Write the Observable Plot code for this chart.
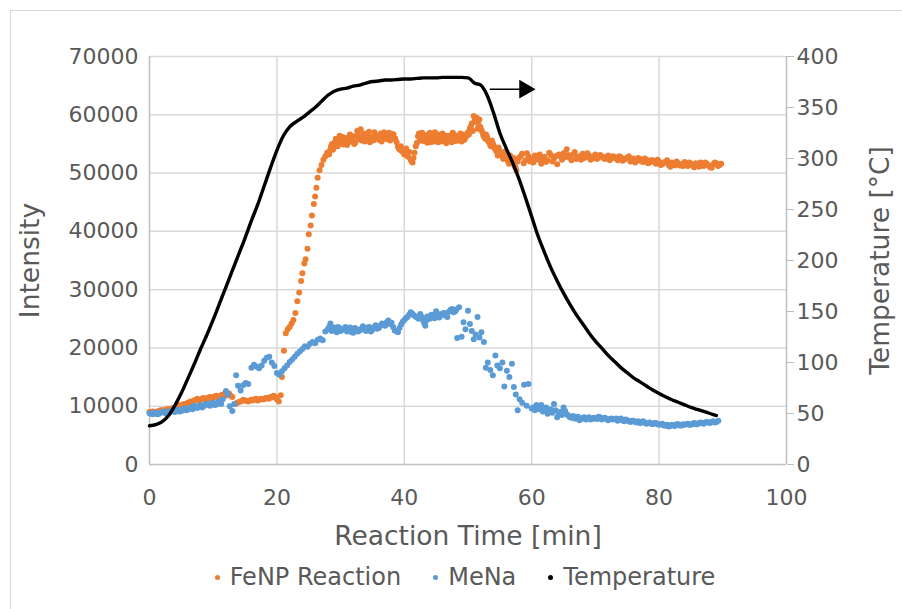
<!DOCTYPE html>
<html>
<head>
<meta charset="utf-8">
<script src="https://cdn.jsdelivr.net/npm/d3@7"></script>
<script src="https://cdn.jsdelivr.net/npm/@observablehq/plot@0.6"></script>
<style>
  html, body { margin: 0; padding: 0; background: #fff; }
  body { width: 902px; height: 609px; position: relative; overflow: hidden; font-family: "DejaVu Sans", Verdana, sans-serif; }
  #border { position: absolute; left: 10px; top: 10px; width: 1000px; height: 1000px; border-left: 1.5px solid #d9d9d9; border-top: 1.5px solid #d9d9d9; }
  #chart { position: absolute; left: 0; top: 0; }
  #legend { position: absolute; left: 14px; top: 562px; width: 902px; display: flex; justify-content: center; gap: 32px; color: #595959; font-size: 24px; line-height: 30px; }
  #legend span.item { display: inline-flex; align-items: center; }
  #legend span.sw { display: inline-block; width: 5px; height: 5px; border-radius: 50%; margin-right: 10px; }
</style>
</head>
<body>
<div id="border"></div>
<div id="chart"></div>
<div id="legend"></div>
<script>
// ---- data ----
const seriesNames = ["FeNP Reaction", "MeNa", "Temperature"];
const seriesColors = ["#ED7D31", "#5B9BD5", "#000000"];
const xTicks = [0, 20, 40, 60, 80, 100];
const yTicks = [0, 10000, 20000, 30000, 40000, 50000, 60000, 70000];
const tempTicks = [0, 50, 100, 150, 200, 250, 300, 350, 400];

// FeNP Reaction: [time min, intensity]
const feMain = [
[0,9000],[0.5,9100],[1,8900],[1.5,9200],[2,9300],[2.5,9400],[3,9500],[3.5,9600],[4,9800],[4.5,10200],
[5,10000],[5.5,10400],[6,10600],[6.5,10800],[7,11000],[7.5,11300],[8,11100],[8.5,11400],[9,11200],[9.5,11600],
[10,11500],[10.5,11800],[11,11600],[11.5,12000],[12,11900],[12.5,12200],[13,11600],[13.5,10400],[14,10700],[14.5,10900],
[15,11000],[15.5,10800],[16,11100],[16.5,11200],[17,11000],[17.5,11300],[18,11200],[18.5,11400],[19,11600],[19.5,11800],
[20,11200],[20.3,10800],[20.6,11900],[20.8,15000],[21.1,19500],[21.4,22500],[21.7,23200],[22,23600],[22.3,24200],[22.6,24800],
[22.9,26000],[23.2,28000],[23.5,29500],[23.8,31500],[24,32800],[24.3,34500],[24.5,35200],[24.8,37000],[25,39500],[25.3,41000],
[25.5,42700],[25.8,44700],[26,46000],[26.2,47500],[26.4,49200],[26.7,50500],[27,51400],[27.3,52300],[27.6,52900],[27.9,53500],
[28.2,53200],[28.5,54600],[28.8,54000],[29.1,55300],[29.4,54800],[29.7,55800],[30,55200],[30.3,56200],[30.6,55600],[31,54800],
[31.3,56000],[31.6,55400],[32,56300],[32.3,55200],[32.6,57200],[33,56500],[33.3,55600],[33.6,56800],[34,55900],[34.3,56600],
[34.6,55300],[35,56200],[35.3,57000],[35.6,56300],[36,55700],[36.3,56800],[36.6,56100],[37,56500],[37.3,55800],[37.6,56900],
[38,56200],[38.3,56600],[38.6,55900],[39,54500],[39.3,54000],[39.6,53800],[40,53200],[40.3,54200],[40.6,52800],[41,52300],
[41.3,51800],[41.6,53500],[42,55200],[42.3,56800],[42.6,56200],[43,55500],[43.3,56500],[43.6,55200],[44,56900],[44.3,55700],
[44.6,55400],[45,56200],[45.3,55300],[45.6,56000],[46,56800],[46.3,55600],[46.6,55100],[47,56400],[47.3,55800],[47.6,56900],
[48,55500],[48.3,56000],[48.6,56300],[49,55400],[49.3,56600],[49.6,56100],[50,57000],[50.3,57700],[50.6,58500],[50.9,59800],
[51.2,58800],[51.5,57600],[51.8,59200],[52.1,57400],[52.4,56500],[52.7,55900],[53,56200],[53.3,55300],[53.6,54600],[53.9,55100],
[54.2,54200],[54.5,53700],[54.8,54400],[55.1,53500],[55.4,52800],[55.7,53400],[56,52500],[56.3,52000],[56.6,53000],[57,51800],
[57.3,51200],[57.6,50500],[58,52600],[58.5,53300],[59,52200],[59.5,52900],[60,52400],[60.5,53000],[61,52300],[61.5,51600],
[62,52800],[62.5,52200],[63,53100],[63.5,52500],[64,51500],[64.5,52900],[65,53400],[65.5,54100],[66,52600],[66.5,53200],
[67,52400],[67.5,52900],[68,53300],[68.5,52700],[69,53000],[69.5,52500],[70,53200],[70.5,52700],[71,52900],[71.5,52400],
[72,53000],[72.5,52500],[73,52800],[73.5,52200],[74,52700],[74.5,52300],[75,52600],[75.5,52000],[76,52500],[76.5,52100],
[77,52400],[77.5,51900],[78,52300],[78.5,51800],[79,52200],[79.5,51600],[80,52000],[80.5,51500],[81,51900],[81.5,51400],
[82,51800],[82.5,51300],[83,51700],[83.5,51500],[84,51900],[84.5,51200],[85,51600],[85.5,51000],[86,51500],[86.5,51800],
[87,51200],[87.5,51600],[88,51000],[88.5,51500],[89,51700],[89.5,51400]
];
// FeNP Reaction: in-between readings
const feMid = [
[0.25,8900],[0.75,9000],[1.25,9100],[1.75,9300],[2.25,9200],[2.75,9500],[3.25,9400],[3.75,9700],[4.25,9900],[4.75,10100],
[5.25,10300],[5.75,10200],[6.25,10700],[6.75,10600],[7.25,11100],[7.75,10900],[8.25,11300],[8.75,11000],[9.25,11500],[9.75,11300],
[10.25,11700],[10.75,11400],[11.25,11900],[11.75,11700],[12.25,12100],[12.75,11800],[13.75,10600],[14.25,10800],[14.75,11100],[15.25,10900],
[15.75,11000],[16.25,11000],[16.75,11300],[17.25,11100],[17.75,11200],[18.25,11400],[18.75,11300],[19.25,11500],[19.75,11600],
[28.35,53900],[28.65,55000],[28.95,54400],[29.25,55900],[29.55,54600],[29.85,56400],[30.15,55500],[30.45,54900],[30.8,56000],[31.15,55200],
[31.45,56600],[31.8,55700],[32.15,55000],[32.45,56300],[32.8,55800],[33.15,57500],[33.45,56000],[33.8,55400],[34.15,56200],[34.45,57100],
[34.8,56000],[35.15,55600],[35.45,56500],[35.8,55900],[36.15,56300],[36.45,55400],[36.8,57000],[37.15,56100],[37.45,56400],[37.8,55600],
[38.15,56700],[38.45,56000],[38.8,55300],[39.15,54200],[39.45,54600],[39.8,53600],[40.15,54000],[40.45,53000],[40.8,53600],[41.15,52000],
[41.45,52600],[41.8,54600],[42.15,56300],[42.45,55600],[42.8,56900],[43.15,56000],[43.45,55800],[43.8,56500],[44.15,55300],[44.45,56200],
[44.8,57000],[45.15,55700],[45.45,56600],[45.8,55400],[46.15,56100],[46.45,56400],[46.8,55700],[47.15,56000],[47.45,55300],[47.8,56600],
[48.15,56300],[48.45,55600],[48.8,56800],[49.15,56000],[49.45,55700],[49.8,56400],[50.15,56600],[50.45,58000],[50.75,57200],[51.05,59000],
[51.35,59500],[51.65,58300],[51.95,57900],[52.25,57000],[52.55,56200],[52.85,56600],[53.15,55500],[53.45,54900],[53.75,55600],[54.05,54700],
[54.35,53900],[54.65,53000],[54.95,53900],[55.25,53100],[55.55,52400],[55.85,53700],[56.15,52700],[56.45,51600],[56.8,52400],[57.15,52600],
[57.45,51000],[57.8,52000],
[58.25,52900],[58.75,51700],[59.25,53400],[59.75,52000],[60.25,51800],[60.75,52700],[61.25,53200],[61.75,52500],[62.25,51900],[62.75,53500],
[63.25,52000],[63.75,52900],[64.25,53200],[64.75,52300],[65.25,52700],[65.75,53100],[66.25,52200],[66.75,53600],[67.25,52800],[67.75,52300],
[68.25,52600],[68.75,53400],[69.25,52300],[69.75,52900],[70.25,52400],[70.75,53100],[71.25,52600],[71.75,52800],[72.25,52200],[72.75,52900],
[73.25,52500],[73.75,52900],[74.25,52100],[74.75,52500],[75.25,52900],[75.75,52300],[76.25,51800],[76.75,52600],[77.25,52000],[77.75,52500],
[78.25,51700],[78.75,52200],[79.25,51900],[79.75,52300],[80.25,51400],[80.75,51800],[81.25,52200],[81.75,51100],[82.25,51600],[82.75,52000],
[83.25,51300],[83.75,51200],[84.25,51600],[84.75,51800],[85.25,51300],[85.75,51700],[86.25,51100],[86.75,51300],[87.25,51800],[87.75,51300],
[88.25,50900],[88.75,51800],[89.25,51200],[89.75,51600]
];

// MeNa: [time min, intensity]
const meMain = [
[0,8800],[0.5,8600],[1,8900],[1.5,8700],[2,9000],[2.5,8800],[3,9100],[3.5,9300],[4,9000],[4.5,9400],
[5,9200],[5.5,9600],[6,9400],[6.5,9800],[7,10100],[7.5,9700],[8,10200],[8.5,10000],[9,10400],[9.5,10100],
[10,10600],[10.5,10300],[11,10900],[11.5,11200],[12,12600],[12.3,12000],[12.6,10000],[13,9200],[13.3,10400],[13.6,15300],
[13.9,13500],[14.3,12700],[14.7,13600],[15.1,14000],[15.5,13800],[16,16600],[16.4,17100],[16.8,16800],[17.2,16500],[17.6,17000],
[18,17800],[18.4,18300],[18.8,18500],[19.2,17500],[19.6,16900],[20,15700],[20.4,15400],[20.8,16000],[21.2,16500],[21.6,17000],
[22,17600],[22.4,18000],[22.8,18500],[23.2,19000],[23.6,19400],[24,19800],[24.4,20300],[24.8,20200],[25.2,20700],[25.6,21000],
[26,20800],[26.4,21400],[26.8,21600],[27.2,21300],[27.6,22800],[28,23200],[28.4,24200],[28.8,23400],[29.2,23000],[29.6,23600],
[30,22900],[30.5,23300],[31,22800],[31.5,23500],[32,22600],[32.5,23200],[33,23000],[33.5,23700],[34,22900],[34.5,23600],
[35,23100],[35.5,23900],[36,23400],[36.5,24200],[37,23800],[37.5,24700],[38,24300],[38.5,23000],[39,22700],[39.5,24000],
[40,24800],[40.5,25300],[41,26100],[41.5,25600],[42,25200],[42.5,25800],[43,24600],[43.3,23800],[43.6,25400],[44,25000],
[44.5,25600],[45,26300],[45.5,25200],[46,25900],[46.5,25500],[47,26200],[47.5,26700],[48,26300],[48.3,21700],[48.6,27000],
[49,21900],[49.3,24400],[49.6,23200],[50,26400],[50.3,24100],[50.6,22900],[50.9,21500],[51.2,22300],[51.5,25300],[51.8,21800],
[52.1,22700],[52.5,21000],[52.8,16600],[53.1,17500],[53.5,16200],[53.9,15300],[54.3,18700],[54.6,17000],[55,16500],[55.4,17500],
[55.7,13400],[56.1,16100],[56.5,15000],[56.9,17300],[57.2,13300],[57.5,12000],[57.8,9300],[58.1,11200],[58.5,10600],[58.8,13700],
[59.2,10100],[59.5,13800],[60,9600],[60.5,9300],[61,9900],[61.5,10200],[62,9400],[62.5,8700],[63,9500],[63.5,10400],
[64,8100],[64.5,9000],[65,9800],[65.5,8600],[66,8100],[66.5,8300],[67,7900],[67.5,7600],[68,8000],[68.5,7700],
[69,8100],[69.5,7800],[70,7900],[70.5,8200],[71,7700],[71.5,8000],[72,7600],[72.5,7900],[73,7800],[73.5,7500],
[74,7900],[74.5,7400],[75,7600],[75.5,7300],[76,7500],[76.5,7200],[77,7100],[77.5,7400],[78,7000],[78.5,7200],
[79,6900],[79.5,7100],[80,6800],[80.5,7000],[81,6700],[81.5,6500],[82,6800],[82.5,6600],[83,6900],[83.5,6700],
[84,6800],[84.5,7000],[85,6800],[85.5,7100],[86,6900],[86.5,7200],[87,7000],[87.5,7300],[88,7100],[88.5,7400],
[89,7300],[89.3,7500]
];
// MeNa: in-between readings
const meMid = [
[0.25,8700],[0.75,8800],[1.25,8600],[1.75,8900],[2.25,9100],[2.75,8700],[3.25,9000],[3.75,9200],[4.25,9300],[4.75,9100],
[5.25,9500],[5.75,9300],[6.25,9700],[6.75,9500],[7.25,9900],[7.75,10000],[8.25,9800],[8.75,10300],[9.25,10200],[9.75,10500],
[10.25,10200],[10.75,10700],[11.25,10400],
[28.2,23600],[28.6,22900],[29,23500],[29.4,22700],[29.8,23400],[30.25,23100],[30.75,23600],[31.25,23000],[31.75,22700],[32.25,23400],
[32.75,22800],[33.25,23300],[33.75,23100],[34.25,23500],[34.75,22800],[35.25,23500],[35.75,23300],[36.25,23800],[36.75,24000],[37.25,24400],
[37.75,24100],[38.25,23600],[38.75,22900],[39.25,23400],[39.75,24500],[40.25,25100],[40.75,25700],[41.25,25900],[41.75,25400],[42.25,25000],
[42.75,25300],[43.15,24200],[43.45,24700],[43.8,25200],[44.25,25700],[44.75,25100],[45.25,25800],[45.75,25600],[46.25,26000],[46.75,25300],
[47.25,26500],[47.75,26100],[48.15,26600],
[60.25,9800],[60.75,10200],[61.25,9500],[61.75,9100],[62.25,9800],[62.75,9200],[63.25,8900],[63.75,9300],[64.25,8800],[64.75,8500],
[65.25,9200],[65.75,8400],[66.25,8000],[66.75,7900],[67.25,8200],[67.75,7800],[68.25,8100],[68.75,7900],[69.25,7700],[69.75,8000],
[70.25,7800],[70.75,8100],[71.25,7900],[71.75,7800],[72.25,7800],[72.75,7700],[73.25,7900],[73.75,7700],[74.25,7600],[74.75,7700],
[75.25,7400],[75.75,7500],[76.25,7300],[76.75,7400],[77.25,7200],[77.75,7200],[78.25,7100],[78.75,7000],[79.25,7100],[79.75,6900],
[80.25,6900],[80.75,6700],[81.25,6800],[81.75,6600],[82.25,6700],[82.75,6900],[83.25,6700],[83.75,6900],[84.25,6900],[84.75,6800],
[85.25,7000],[85.75,6900],[86.25,7100],[86.75,7100],[87.25,7200],[87.75,7200],[88.25,7300],[88.75,7200]
];

// Temperature: [time min, °C]
const tempData = [
[0,38],[1,39],[2,42],[3,48],[4,58],[5,70],[6,84],[7,98],[8,113],[9,127],
[10,142],[11,158],[12,174],[13,190],[14,206],[15,222],[16,239],[17,255],[18,273],[19,291],
[20,308],[21,322],[22,331],[23,336],[24,340],[25,345],[26,350],[27,356],[28,362],[29,366],
[30,368],[31,369],[32,371],[33,372],[34,374],[35,375.5],[36,376],[37,377],[38,377],[39,377.5],
[40,378],[41,378],[42,378.5],[43,379],[44,379],[45,379],[46,379.5],[47,379.5],[48,379.5],[49,379.5],
[50,379],[50.5,377],[51,374],[52,372],[52.5,368],[53,362],[54,345],[55,325],[56,310],[57,296],
[58,280],[59,262],[60,243],[61,224],[62,208],[63,193],[64,180],[65,168],[66,157],[67,147],
[68,138],[69,129],[70,121],[71,114],[72,107],[73,101],[74,95],[75,90],[76,85],[77,81],
[78,77],[79,73],[80,69.5],[81,66.5],[82,63.5],[83,61],[84,58.5],[85,56],[86,54],[87,52],
[88,50],[89,48]
];

// arrow annotation (pointing to the secondary axis): [time, intensity]
const arrowLine = [[53.5, 64400], [58.2, 64400]];
const arrowHead = [[58.9, 64400]];

const feData = feMain.concat(feMid);
const meData = meMain.concat(meMid);

// ---- scales ----
const tMax = 400, iMax = 70000;
const toI = (T) => T * iMax / tMax;   // map temperature onto intensity axis

const font = "DejaVu Sans, Verdana, sans-serif";
const gray = "#595959";
const gridColor = "#d9d9d9";
const axisColor = "#bfbfbf";

const plot = Plot.plot({
  width: 902,
  height: 556,
  marginLeft: 149,
  marginRight: 116,
  marginTop: 56,
  marginBottom: 92,
  style: { fontFamily: font, fontSize: "22px", color: gray, background: "transparent", overflow: "visible" },
  x: { domain: [0, 100] },
  y: { domain: [0, iMax] },
  marks: [
    Plot.ruleY(yTicks.slice(1), { stroke: gridColor, strokeWidth: 1.5 }),
    Plot.ruleX(xTicks.slice(1, -1), { stroke: gridColor, strokeWidth: 1.5 }),
    Plot.ruleX([0, 100], { stroke: axisColor, strokeWidth: 1.5 }),
    Plot.ruleY([0], { stroke: axisColor, strokeWidth: 1.5 }),
    Plot.axisX({ ticks: xTicks, tickSize: 0, tickPadding: 25, label: null, fontSize: 22, fill: gray }),
    Plot.axisY({ ticks: yTicks, tickSize: 0, tickPadding: 11, label: null, tickFormat: d => String(d), fontSize: 22, fill: gray }),
    Plot.axisY({ anchor: "right", ticks: tempTicks.map(toI), tickFormat: d => String(Math.round(d * tMax / iMax)), tickSize: 7, tickPadding: 3, label: null, stroke: axisColor, fontSize: 22, fill: gray }),
    Plot.text(["Intensity"], { frameAnchor: "left", dx: -119, rotate: -90, textAnchor: "middle", lineAnchor: "middle", fontSize: 26.5, fill: gray }),
    Plot.text(["Temperature [°C]"], { frameAnchor: "right", dx: 94, rotate: -90, textAnchor: "middle", lineAnchor: "middle", fontSize: 26.5, fill: gray }),
    Plot.text(["Reaction Time [min]"], { frameAnchor: "bottom", dy: 72, textAnchor: "middle", lineAnchor: "middle", fontSize: 26.5, fill: gray }),
    Plot.dot(feData, { x: d => d[0], y: d => d[1], r: 3, fill: seriesColors[0], stroke: "none" }),
    Plot.dot(meData, { x: d => d[0], y: d => d[1], r: 3, fill: seriesColors[1], stroke: "none" }),
    Plot.line(tempData, { x: d => d[0], y: d => toI(d[1]), stroke: "#000", strokeWidth: 3.4, curve: "monotone-x" }),
    Plot.line(arrowLine, { x: d => d[0], y: d => d[1], stroke: "#000", strokeWidth: 1.5 }),
    Plot.dot(arrowHead, { x: d => d[0], y: d => d[1], symbol: "triangle", r: 7, rotate: 90, fill: "#000", stroke: "none" })
  ]
});
document.getElementById("chart").appendChild(plot);

// legend below the SVG
const legend = document.getElementById("legend");
seriesNames.forEach((name, i) => {
  const item = document.createElement("span");
  item.className = "item";
  const sw = document.createElement("span");
  sw.className = "sw";
  sw.style.background = seriesColors[i];
  item.appendChild(sw);
  item.appendChild(document.createTextNode(name));
  legend.appendChild(item);
});
</script>
</body>
</html>
